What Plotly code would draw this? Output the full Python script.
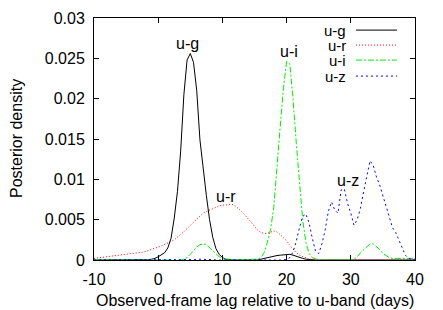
import plotly.graph_objects as go

# sample grid: lag in days, every 0.5 d from -10 to 40
lag = [-10 + 0.5 * i for i in range(101)]

u_g = [
    0, 0, 0, 0, 0, 0, 0, 0, 0, 0,
    0, 0, 0, 0, 0, 0, 0, 0.00005, 0.0001, 0.0002,
    0.0004, 0.0006, 0.0009, 0.0015, 0.0027, 0.0052, 0.0085, 0.0135, 0.0205, 0.0248,
    0.0256, 0.0245, 0.0210, 0.0149, 0.0112, 0.0080, 0.0050, 0.0028, 0.0014, 0.0007,
    0.0003, 0.0001, 0.00005, 0, 0, 0, 0, 0, 0, 0,
    0, 0, 0.0001, 0.0002, 0.0003, 0.0004, 0.0005, 0.00055, 0.0006, 0.00065,
    0.0007, 0.0007, 0.0006, 0.00045, 0.0003, 0.0002, 0.0001, 0.00005, 0, 0,
    0, 0, 0, 0, 0, 0, 0, 0, 0, 0,
    0, 0, 0, 0, 0, 0, 0, 0, 0, 0,
    0, 0, 0, 0, 0, 0, 0, 0, 0, 0,
    0,
]

u_r = [
    0.0002, 0.00025, 0.0003, 0.00032, 0.00035, 0.0004, 0.00045, 0.0005, 0.00055, 0.0006,
    0.00065, 0.0007, 0.00075, 0.00082, 0.0009, 0.00097, 0.00105, 0.00117, 0.0013, 0.00145,
    0.0016, 0.00175, 0.0019, 0.0021, 0.0023, 0.0025, 0.0028, 0.0031, 0.0035, 0.0039,
    0.0043, 0.0047, 0.0051, 0.0055, 0.0058, 0.0060, 0.0062, 0.0064, 0.0066, 0.0067,
    0.0068, 0.0068, 0.0069, 0.0069, 0.0067, 0.0064, 0.0060, 0.0056, 0.0051, 0.0046,
    0.0041, 0.0037, 0.0034, 0.0033, 0.0033, 0.0035, 0.0036, 0.0035, 0.0031, 0.0028,
    0.0024, 0.0018, 0.0013, 0.0009, 0.0006, 0.0004, 0.0002, 0.0001, 0.00005, 0,
    0, 0, 0, 0, 0, 0, 0, 0, 0, 0,
    0, 0, 0, 0, 0, 0, 0, 0, 0, 0,
    0, 0, 0, 0, 0, 0, 0, 0, 0, 0,
    0,
]

u_i = [
    0, 0, 0, 0, 0, 0, 0, 0, 0, 0,
    0, 0, 0, 0, 0, 0, 0, 0, 0, 0,
    0, 0, 0, 0, 0, 0, 0, 0, 0.0001, 0.0003,
    0.0007, 0.0012, 0.0016, 0.0019, 0.0020, 0.0019, 0.0015, 0.0011, 0.0007, 0.0004,
    0.0002, 0.0001, 0.0001, 0.00005, 0.00005, 0.00005, 0.00005, 0.00005, 0.00005, 0.00005,
    0.00005, 0.0001, 0.0003, 0.0009, 0.0022, 0.0038, 0.0065, 0.0120, 0.0165, 0.0212,
    0.0246, 0.0243, 0.0200, 0.0146, 0.0095, 0.0050, 0.0022, 0.0008, 0.0003, 0.0001,
    0, 0, 0, 0, 0, 0, 0, 0, 0, 0,
    0, 0.0001, 0.0004, 0.0009, 0.0013, 0.0017, 0.0020, 0.0020, 0.0017, 0.0013,
    0.0008, 0.0005, 0.0003, 0.0002, 0.0002, 0.0002, 0.0002, 0.0002, 0.0002, 0.0002,
    0.0002,
]

u_z = [
    0, 0, 0, 0, 0, 0, 0, 0, 0, 0,
    0, 0, 0, 0, 0, 0, 0, 0, 0, 0,
    0, 0, 0, 0, 0, 0, 0, 0, 0, 0,
    0, 0, 0.00005, 0.0001, 0.0001, 0.0001, 0.0001, 0.00005, 0, 0,
    0, 0, 0, 0, 0, 0, 0, 0, 0, 0,
    0, 0, 0, 0, 0, 0, 0, 0, 0, 0,
    0.0001, 0.0003, 0.0010, 0.0023, 0.0040, 0.0054, 0.0057, 0.0046, 0.0027, 0.0011,
    0.0008, 0.0020, 0.0037, 0.0060, 0.0072, 0.0062, 0.0058, 0.0087, 0.0088, 0.0070,
    0.0058, 0.0043, 0.0050, 0.0064, 0.0085, 0.0104, 0.0123, 0.0117, 0.0103, 0.0093,
    0.0080, 0.0065, 0.0051, 0.0040, 0.0034, 0.0025, 0.0015, 0.0006, 0.0002, 0.0001,
    0.0001,
]

series_names = ["u-g", "u-r", "u-i", "u-z"]
series_vals = [u_g, u_r, u_i, u_z]
colors = ["#000000", "#ff0000", "#00ee00", "#0000ff"]
dashes = ["solid", "1px,2px", "6px,2px,2px,2px", "2px,3px"]

# curve labels (data coords)
label_x = [4.6, 10.5, 20.4, 29.6]
label_y = [0.0269, 0.00785, 0.0258, 0.0099]

x_ticks = [-10, 0, 10, 20, 30, 40]
x_ticktext = ["-10", "0", "10", "20", "30", "40"]
y_ticks = [0, 0.005, 0.01, 0.015, 0.02, 0.025, 0.03]
y_ticktext = ["0", "0.005", "0.01", "0.015", "0.02", "0.025", "0.03"]

FONT = "Liberation Sans, Arial, sans-serif"
FS = 16

fig = go.Figure()
for name, vals, c, d in zip(series_names, series_vals, colors, dashes):
    fig.add_trace(go.Scatter(x=lag, y=vals, mode="lines", name=name,
                             line=dict(color=c, width=1, dash=d)))

for name, lx, ly in zip(series_names, label_x, label_y):
    fig.add_annotation(x=lx, y=ly, text=name, showarrow=False,
                       font=dict(size=FS, color="black", family=FONT))

# gnuplot-style key: text right-aligned, sample line to the right
key_y = [0.950, 0.888, 0.826, 0.760]
for name, c, d, ky in zip(series_names, colors, dashes, key_y):
    fig.add_annotation(xref="paper", yref="paper", x=0.79, y=ky, text=name,
                       showarrow=False, xanchor="right", yanchor="middle",
                       font=dict(size=15, color="black", family=FONT))
    fig.add_shape(type="line", xref="paper", yref="paper",
                  x0=0.816, x1=0.944, y0=ky, y1=ky,
                  line=dict(color=c, width=1, dash=d))

# axis titles
fig.add_annotation(xref="paper", yref="paper", x=0.5, y=0, yshift=-40,
                   xanchor="center", yanchor="middle", showarrow=False,
                   text="Observed-frame lag relative to u-band (days)",
                   font=dict(size=FS, color="black", family=FONT))
fig.add_annotation(xref="paper", yref="paper", x=0, y=0.5, xshift=-78,
                   xanchor="center", yanchor="middle", showarrow=False,
                   textangle=-90, text="Posterior density",
                   font=dict(size=FS, color="black", family=FONT))

axis_common = dict(showline=True, linecolor="black", linewidth=1, mirror="ticks",
                   ticks="inside", ticklen=5, tickcolor="black", showgrid=False,
                   zeroline=False, automargin=False,
                   tickfont=dict(size=FS, color="black", family=FONT))

fig.update_xaxes(range=[-10, 40], tickvals=x_ticks, ticktext=x_ticktext,
                 ticklabelstandoff=5, **axis_common)
fig.update_yaxes(range=[0, 0.03], tickvals=y_ticks, ticktext=y_ticktext,
                 ticklabelstandoff=5, **axis_common)

# page body has an 8px margin, so the figure is sized/offset to compensate
fig.update_layout(width=435, height=302, showlegend=False,
                  margin=dict(l=86, r=28, t=10, b=50),
                  plot_bgcolor="white", paper_bgcolor="white",
                  font=dict(family=FONT, color="black"))

fig.write_html("out.html")
